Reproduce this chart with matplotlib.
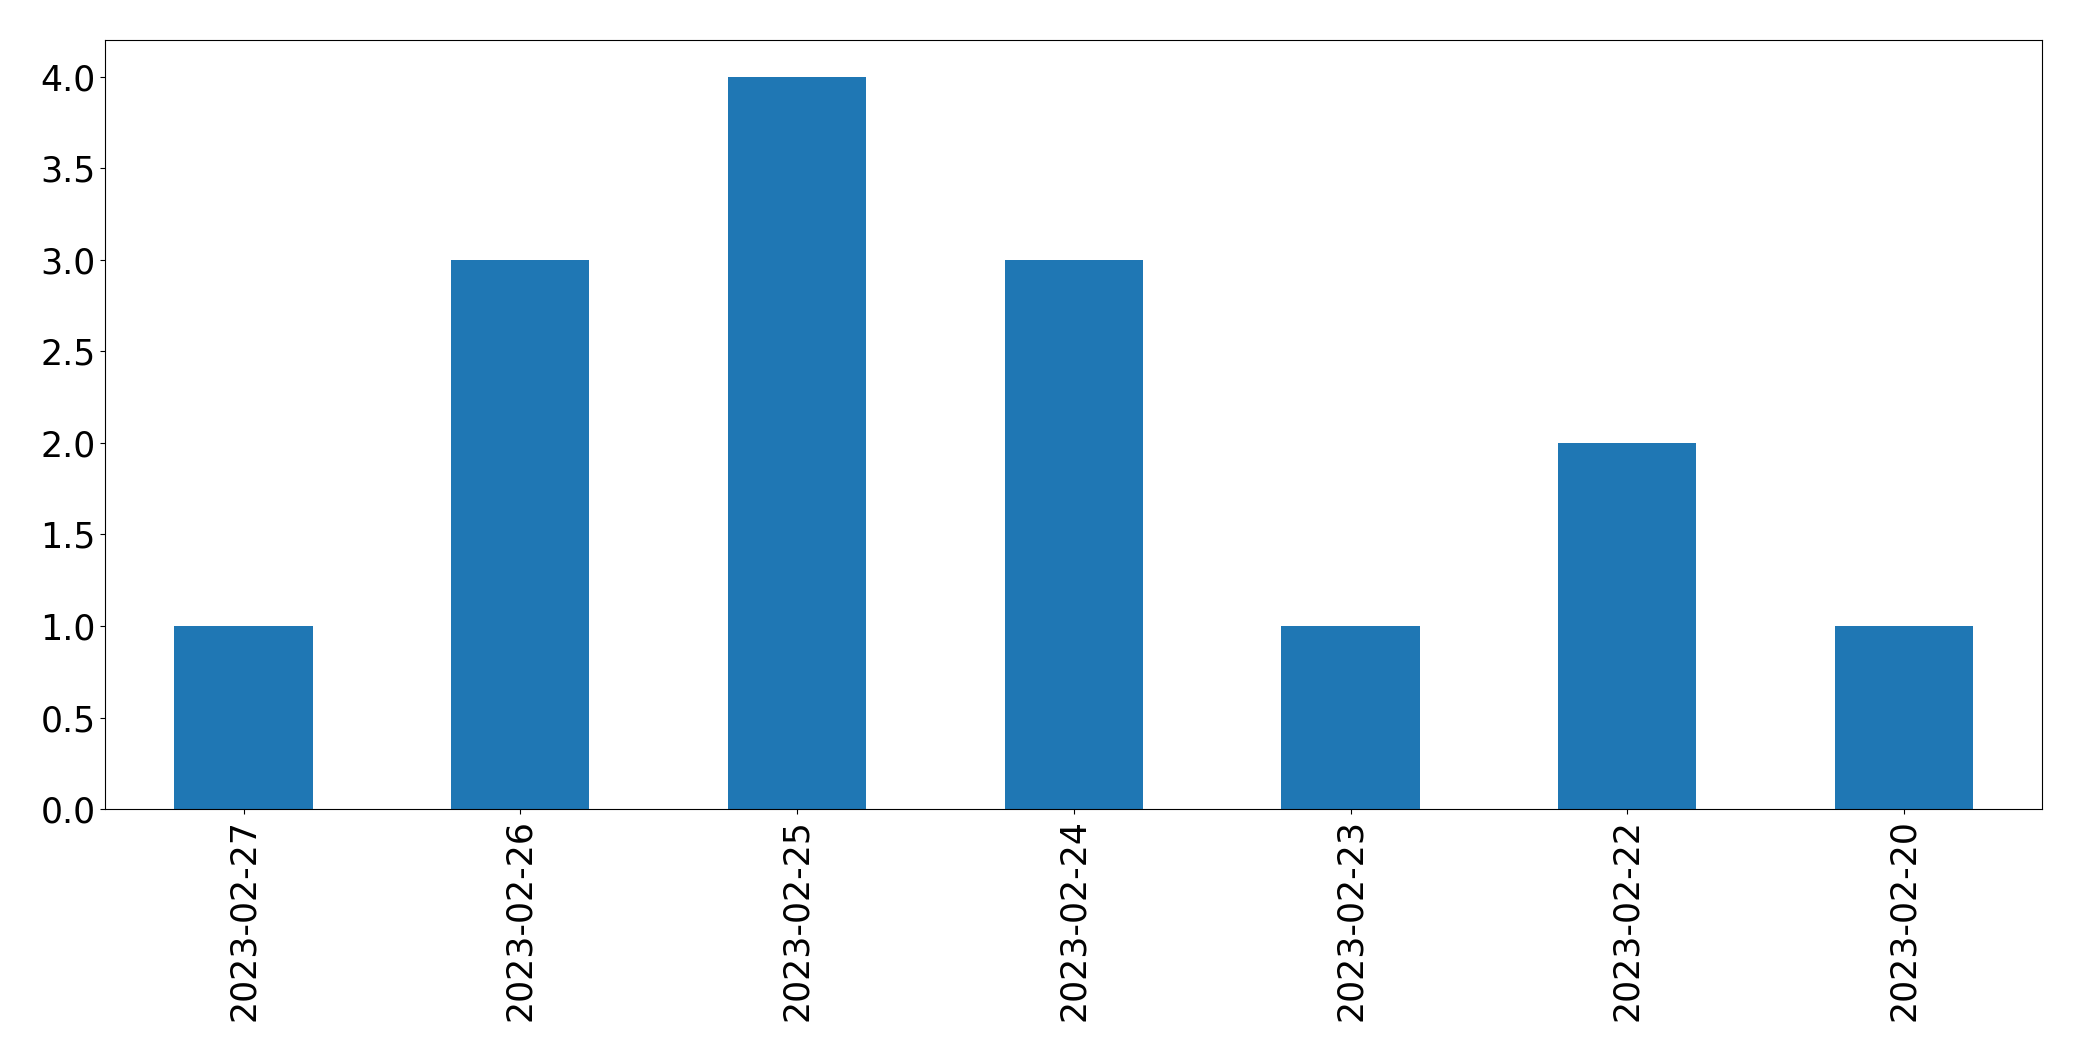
import matplotlib
matplotlib.use("Agg")
import matplotlib.pyplot as plt
import numpy as np

# dates (categories) and counts
dates = ['2023-02-27', '2023-02-26', '2023-02-25', '2023-02-24',
         '2023-02-23', '2023-02-22', '2023-02-20']
counts = [1, 3, 4, 3, 1, 2, 1]

fig, ax = plt.subplots(figsize=(20.82, 10.61), dpi=100)
x = np.arange(len(dates))
ax.bar(x, counts, width=0.5, color='#1f77b4')

ax.set_xlim(-0.5, len(dates) - 0.5)
ax.set_ylim(0, 4.2)
ax.set_yticks(np.arange(0, 4.01, 0.5))
ax.set_xticks(x)
ax.set_xticklabels(dates, rotation=90)
ax.tick_params(axis='both', labelsize=25)

plt.subplots_adjust(left=0.0505, right=0.981, top=0.962, bottom=0.2375)
plt.savefig('out.png', dpi=100)
